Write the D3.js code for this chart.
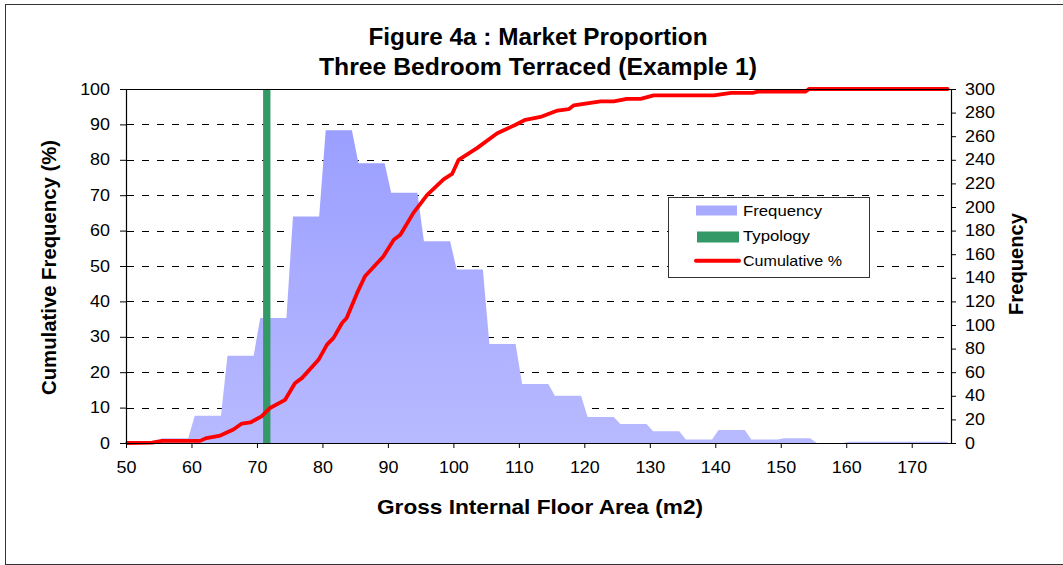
<!DOCTYPE html>
<html>
<head>
<meta charset="utf-8">
<script src="https://cdn.jsdelivr.net/npm/d3@7/dist/d3.min.js"></script>
<style>
  html, body { margin: 0; padding: 0; background: #fff; }
  svg { display: block; font-family: "Liberation Sans", Arial, sans-serif; }
</style>
</head>
<body>
<svg id="chart" width="1063" height="565"></svg>
<script>
// ---------------- DATA ----------------
const titleLines = ["Figure 4a : Market Proportion", "Three Bedroom Terraced (Example 1)"];
const xTitle = "Gross Internal Floor Area (m2)";
const yLeftTitle = "Cumulative Frequency (%)";
const yRightTitle = "Frequency";
const legendLabels = ["Frequency", "Typology", "Cumulative %"];

// Category axis: one category per m2 from 50 to 175
const categories = d3.range(50, 176);
// Frequency (right axis) per category
const frequency = [
  0, 0, 0, 0, 0,          // 50-54
  4, 4, 4, 4, 4,          // 55-59
  23, 23, 23, 23, 23,     // 60-64
  74, 74, 74, 74, 74,     // 65-69
  106, 106, 106, 106, 106,// 70-74
  192, 192, 192, 192, 192,// 75-79
  265, 265, 265, 265, 265,// 80-84
  237, 237, 237, 237, 237,// 85-89
  212, 212, 212, 212, 212,// 90-94
  171, 171, 171, 171, 171,// 95-99
  147, 147, 147, 147, 147,// 100-104
  84, 84, 84, 84, 84,     // 105-109
  50, 50, 50, 50, 50,     // 110-114
  40, 40, 40, 40, 40,     // 115-119
  22, 22, 22, 22, 22,     // 120-124
  16, 16, 16, 16, 16,     // 125-129
  10, 10, 10, 10, 10,     // 130-134
  3, 3, 3, 3, 3,          // 135-139
  11, 11, 11, 11, 11,     // 140-144
  3, 3, 3, 3, 3,          // 145-149
  4, 4, 4, 4, 4,          // 150-154
  0, 0, 0, 0, 0,          // 155-159
  1, 1, 1, 1, 1,          // 160-164
  1, 1, 1, 1, 1,          // 165-169
  1, 1, 1, 1, 1,          // 170-174
  1                       // 175
];

// Cumulative % (left axis)
const cumX = [50.2, 54, 55.5, 61.3, 62.3, 64.4, 66.4, 67.7, 69, 70.7, 72, 74.3, 75.8, 76.9, 79.4, 80.7, 81.7, 83, 83.7,
  85.3, 86.5, 89.3, 90.9, 91.9, 93.9, 96, 98.5, 99.8, 100.8, 103.6, 106.7, 109.5, 111, 113.3, 115.9, 117.6,
  118.4, 119.9, 122.5, 124.5, 126.5, 128.6, 130.6, 139.8, 142.4, 145.7, 146.7, 153.8, 154.3, 175.5];
const cumPct = [0, 0.1, 0.6, 0.6, 1.4, 2.1, 3.8, 5.5, 5.8, 7.5, 9.9, 12.2, 16.9, 18.4, 23.5, 27.8, 29.7, 33.9, 35.3,
  42.4, 47.1, 52.7, 57.4, 58.8, 65, 70.1, 74.5, 76, 80, 83.3, 87.5, 89.9, 91.3, 92.1, 93.9, 94.3,
  95.4, 95.8, 96.5, 96.5, 97.2, 97.2, 98.2, 98.2, 98.9, 98.9, 99.3, 99.3, 100, 100];

// Typology marker (category, value on left axis)
const typologyCategory = [71];
const typologyValue = [100];

const xTicks = [50, 60, 70, 80, 90, 100, 110, 120, 130, 140, 150, 160, 170];
const yLeftTicks = [0, 10, 20, 30, 40, 50, 60, 70, 80, 90, 100];
const yRightTicks = d3.range(0, 301, 20);
const gridTicks = [10, 20, 30, 40, 50, 60, 70, 80, 90];

// ---------------- LAYOUT ----------------
const svg = d3.select("#chart");
const L = 126, R = 951, T = 89, B = 443;
const SX = 1.12; // horizontal text stretch of the original picture

const x = d3.scaleLinear().domain([50, 176]).range([L, R]);
const yL = d3.scaleLinear().domain([0, 100]).range([B, T]);
const yR = d3.scaleLinear().domain([0, 300]).range([B, T]);

// outer frame
svg.append("rect").attr("x", 5.5).attr("y", 4.5).attr("width", 1080).attr("height", 560)
  .attr("fill", "#fff").attr("stroke", "#333").attr("stroke-width", 1);

// gradient
const defs = svg.append("defs");
const grad = defs.append("linearGradient").attr("id", "freqGrad")
  .attr("gradientUnits", "userSpaceOnUse").attr("x1", 0).attr("x2", 0).attr("y1", T).attr("y2", B);
grad.append("stop").attr("offset", "0%").attr("stop-color", "#979BFF");
grad.append("stop").attr("offset", "100%").attr("stop-color", "#B8BAFF");

// gridlines
svg.append("g").selectAll("line").data(gridTicks).join("line")
  .attr("x1", L).attr("x2", R)
  .attr("y1", d => Math.round(yL(d)) + 0.5).attr("y2", d => Math.round(yL(d)) + 0.5)
  .attr("stroke", "#000").attr("stroke-width", 1).attr("stroke-dasharray", "7,8")
  .attr("stroke-dashoffset", -1);

// frequency area (points at category centres)
const area = d3.area()
  .x((d, i) => x(categories[i] + 0.5))
  .y0(B)
  .y1(d => yR(d));
svg.append("path").datum(frequency)
  .attr("d", area)
  .attr("fill", "url(#freqGrad)");

// typology bar
svg.append("g").selectAll("rect").data(typologyCategory).join("rect")
  .attr("x", d => x(d + 0.5 - 0.56))
  .attr("width", d => x(d + 0.5 + 0.56) - x(d + 0.5 - 0.56))
  .attr("y", (d, i) => yL(typologyValue[i]))
  .attr("height", (d, i) => B - yL(typologyValue[i]))
  .attr("fill", "#339966");

// cumulative line
const line = d3.line().x(d => x(d[0])).y(d => yL(d[1]));
svg.append("path").datum(cumX.map((v, i) => [v, cumPct[i]]))
  .attr("d", line)
  .attr("fill", "none").attr("stroke", "#FF0000").attr("stroke-width", 3.8)
  .attr("stroke-linejoin", "round").attr("stroke-linecap", "round");

// border lines: top
svg.append("line").attr("x1", L).attr("x2", R).attr("y1", T + 0.5).attr("y2", T + 0.5)
  .attr("stroke", "#000").attr("stroke-width", 1);

// axes
function styleAxis(g) {
  g.selectAll(".domain").attr("stroke", "#000").attr("stroke-width", 1.2);
  g.selectAll(".tick line").attr("stroke", "#000").attr("stroke-width", 1);
  g.selectAll("text").attr("font-size", 16).attr("fill", "#000")
    .attr("font-family", "'Liberation Sans', Arial, sans-serif")
    .attr("transform", `scale(${SX},1)`);
}
svg.append("g").attr("transform", `translate(${L},0)`)
  .call(d3.axisLeft(yL).tickValues(yLeftTicks).tickSize(6).tickPadding(8.3).tickSizeOuter(0))
  .call(styleAxis);
svg.append("g").attr("transform", `translate(${R},0)`)
  .call(d3.axisRight(yR).tickValues(yRightTicks).tickSize(5).tickPadding(7.5).tickSizeOuter(0))
  .call(styleAxis);
svg.append("g").attr("transform", `translate(0,${B})`)
  .call(d3.axisBottom(x).tickValues(xTicks).tickSize(5).tickPadding(14).tickSizeOuter(0))
  .call(styleAxis);

// titles
function title(txt, x0, y0, size, len, rot) {
  svg.append("text").attr("transform", `translate(${x0},${y0})` + (rot ? " rotate(-90)" : ""))
    .attr("text-anchor", "middle").attr("font-size", size).attr("font-weight", "bold")
    .attr("textLength", len).attr("lengthAdjust", "spacingAndGlyphs").text(txt);
}
title(titleLines[0], 538, 44.5, 23, 339);
title(titleLines[1], 538, 74.5, 23, 438);
title(xTitle, 540, 514, 20.5, 326);
title(yLeftTitle, 56, 267.5, 20, 255, true);
title(yRightTitle, 1023, 264, 20, 102, true);

// legend
const lg = svg.append("g");
lg.append("rect").attr("x", 668.5).attr("y", 197.5).attr("width", 201).attr("height", 80)
  .attr("fill", "#fff").attr("stroke", "#333").attr("stroke-width", 1);
lg.append("rect").attr("x", 696).attr("y", 205.5).attr("width", 41).attr("height", 10).attr("fill", "#A8AAFF");
lg.append("rect").attr("x", 697).attr("y", 231.5).attr("width", 42).attr("height", 11).attr("fill", "#339966");
lg.append("line").attr("x1", 696).attr("x2", 739).attr("y1", 260.7).attr("y2", 260.7)
  .attr("stroke", "#FF0000").attr("stroke-width", 4).attr("stroke-linecap", "round");
const legendY = [216, 241, 266];
const legendLen = [79, 67, 99];
lg.selectAll("text.lt").data(legendLabels).join("text").attr("class", "lt")
  .attr("x", 743).attr("y", (d, i) => legendY[i])
  .attr("font-size", 15).attr("fill", "#000")
  .attr("textLength", (d, i) => legendLen[i]).attr("lengthAdjust", "spacingAndGlyphs")
  .text(d => d);
</script>
</body>
</html>
